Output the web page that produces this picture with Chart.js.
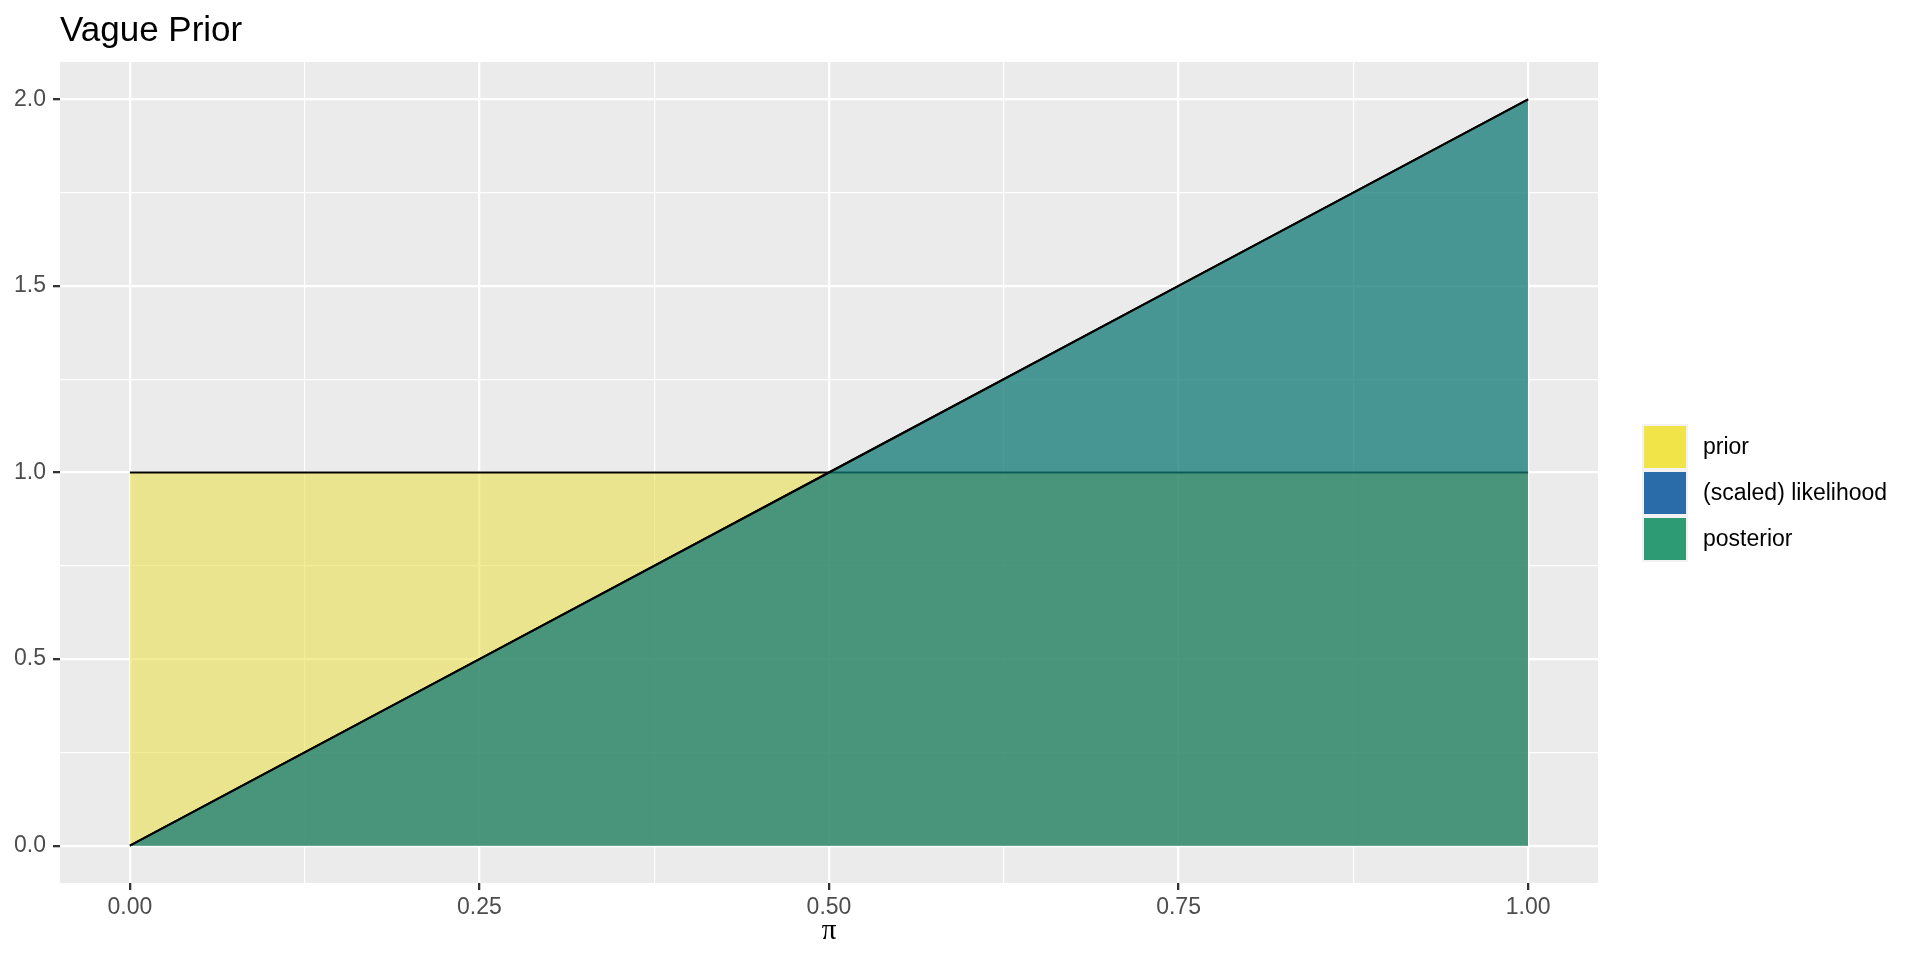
<!DOCTYPE html>
<html>
<head>
<meta charset="utf-8">
<script src="https://cdn.jsdelivr.net/npm/chart.js@4/dist/chart.umd.min.js"></script>
<style>
  html, body { margin: 0; padding: 0; background: #ffffff; }
  #wrap { width: 1920px; height: 960px; position: relative; }
</style>
</head>
<body>
<div id="wrap"><canvas id="c" width="1920" height="960"></canvas></div>
<script>
// ---- data ----
const chartTitle = 'Vague Prior';
const xAxisTitle = 'π';
const seriesNames = ['prior', '(scaled) likelihood', 'posterior'];
const legendColors = ['#F0E448', '#2A6CAA', '#2D9B73'];
const fillColors = ['rgba(233,222,66,0.55)', 'rgba(42,108,170,0.5)', 'rgba(6,130,92,0.5)'];
const piValues = [0, 0.25, 0.5, 0.75, 1];
const priorValues = [1, 1, 1, 1, 1];
const likelihoodValues = [0, 0.5, 1, 1.5, 2];
const posteriorValues = [0, 0.5, 1, 1.5, 2];
const xTicks = [0, 0.125, 0.25, 0.375, 0.5, 0.625, 0.75, 0.875, 1];
const xTickLabels = ['0.00', '', '0.25', '', '0.50', '', '0.75', '', '1.00'];
const yTicks = [0, 0.25, 0.5, 0.75, 1, 1.25, 1.5, 1.75, 2];
const yTickLabels = ['0.0', '', '0.5', '', '1.0', '', '1.5', '', '2.0'];

// ---- styling helpers ----
const isMajor = ctx => ctx.index % 2 === 0;
const gridCommon = {
  color: '#FFFFFF',
  lineWidth: ctx => isMajor(ctx) ? 2.3 : 1.2,
  tickColor: ctx => isMajor(ctx) ? '#333333' : 'rgba(0,0,0,0)',
  tickWidth: ctx => isMajor(ctx) ? 2.3 : 0,
  tickLength: 7,
  drawTicks: true
};
const tickFont = { family: 'Liberation Sans, Arial, sans-serif', size: 23 };

const panelBg = {
  id: 'panelBg',
  beforeDraw(chart) {
    const { ctx, chartArea: a } = chart;
    ctx.save();
    ctx.fillStyle = '#EBEBEB';
    ctx.fillRect(a.left, a.top, a.right - a.left, a.bottom - a.top);
    ctx.restore();
  }
};

const titleAndLegend = {
  id: 'titleAndLegend',
  afterDraw(chart) {
    const { ctx, chartArea: a } = chart;
    ctx.save();
    ctx.fillStyle = '#000000';
    ctx.font = '35px "Liberation Sans", Arial, sans-serif';
    ctx.textAlign = 'left';
    ctx.textBaseline = 'alphabetic';
    ctx.fillText(chartTitle, a.left, 41);

    const keyX = a.right + 44, keyTop = 424, keySize = 46;
    ctx.font = '23px "Liberation Sans", Arial, sans-serif';
    ctx.textBaseline = 'middle';
    seriesNames.forEach((name, i) => {
      const y = keyTop + i * keySize;
      ctx.fillStyle = '#F2F2F2';
      ctx.fillRect(keyX, y, keySize, keySize);
      ctx.fillStyle = legendColors[i];
      ctx.fillRect(keyX + 2, y + 2, keySize - 4, keySize - 4);
      ctx.fillStyle = '#000000';
      ctx.fillText(name, keyX + keySize + 15, y + keySize / 2 + 1);
    });
    ctx.restore();
  }
};

const toPoints = vals => piValues.map((x, i) => ({ x, y: vals[i] }));
const makeSet = (idx, vals, order) => ({
  label: seriesNames[idx],
  data: toPoints(vals),
  borderColor: '#000000',
  borderWidth: 2,
  backgroundColor: fillColors[idx],
  fill: 'origin',
  pointRadius: 0,
  pointHoverRadius: 0,
  tension: 0,
  order
});

new Chart(document.getElementById('c'), {
  type: 'line',
  data: {
    datasets: [
      makeSet(0, priorValues, 3),
      makeSet(1, likelihoodValues, 2),
      makeSet(2, posteriorValues, 1)
    ]
  },
  options: {
    responsive: false,
    animation: false,
    devicePixelRatio: 1,
    layout: { padding: { top: 62, right: 322, bottom: 0, left: 0 } },
    plugins: { legend: { display: false }, title: { display: false }, tooltip: { enabled: false } },
    scales: {
      x: {
        type: 'linear',
        min: -0.05,
        max: 1.05,
        afterBuildTicks: s => { s.ticks = xTicks.map(v => ({ value: v })); },
        afterFit: s => { s.height = 77; },
        ticks: {
          callback: (v, i) => xTickLabels[i],
          color: '#4D4D4D',
          font: tickFont,
          padding: 4,
          autoSkip: false,
          maxRotation: 0
        },
        grid: gridCommon,
        border: { display: false },
        title: {
          display: true,
          text: xAxisTitle,
          color: '#000000',
          font: { family: 'Liberation Serif, serif', size: 29 },
          padding: { top: 0, bottom: 11 }
        }
      },
      y: {
        type: 'linear',
        min: -0.1,
        max: 2.1,
        afterBuildTicks: s => { s.ticks = yTicks.map(v => ({ value: v })); },
        afterFit: s => { s.width = 60; },
        ticks: {
          callback: (v, i) => yTickLabels[i],
          color: '#4D4D4D',
          font: tickFont,
          padding: 7,
          autoSkip: false
        },
        grid: gridCommon,
        border: { display: false }
      }
    }
  },
  plugins: [panelBg, titleAndLegend]
});
</script>
</body>
</html>
